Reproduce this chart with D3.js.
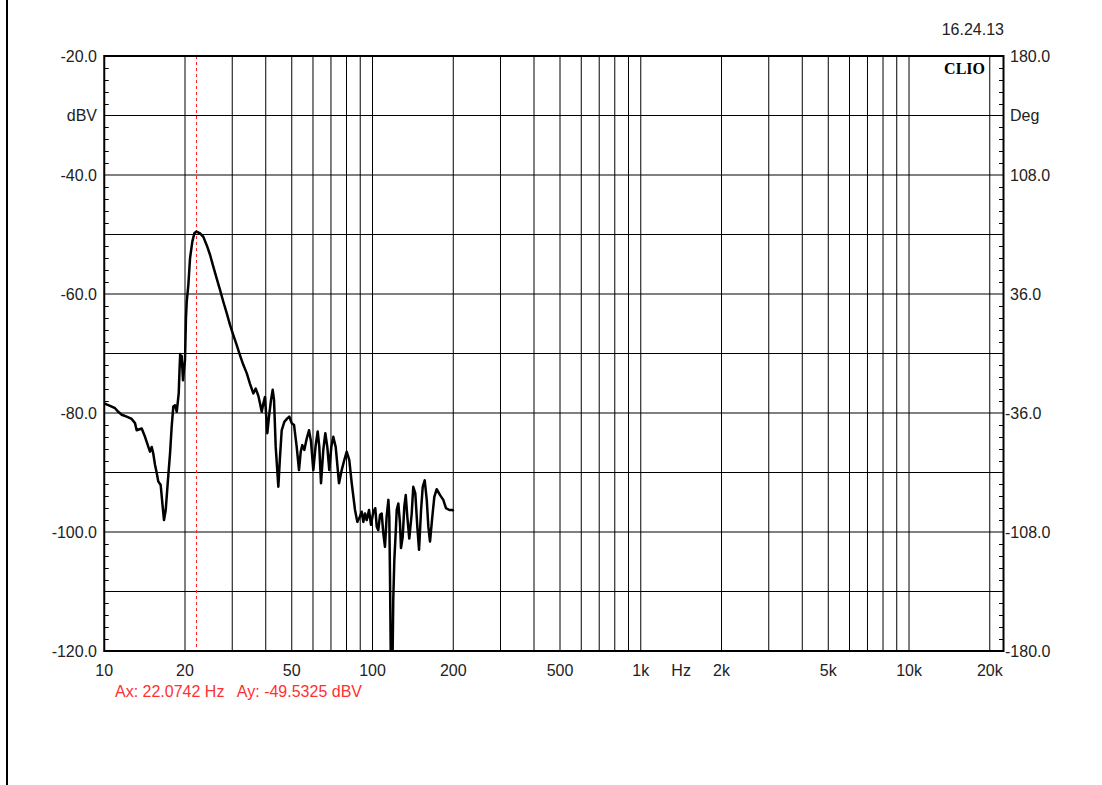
<!DOCTYPE html>
<html>
<head>
<meta charset="utf-8">
<script src="https://cdn.jsdelivr.net/npm/d3@7"></script>
<style>
  html, body { margin: 0; padding: 0; background: #fff; }
  svg { display: block; }
  text { font-family: "Liberation Sans", Arial, sans-serif; }
</style>
</head>
<body>
<svg id="chart" width="1102" height="785"></svg>
<script>
// ---- data ----
const freqHz = [10.0,10.51,10.97,11.28,11.62,12.12,12.66,13.02,13.21,13.79,14.19,14.60,14.81,15.03,15.23,15.46,15.69,15.90,16.23,16.51,16.70,16.95,17.24,17.59,17.84,18.09,18.36,18.63,18.95,19.08,19.19,19.32,19.44,19.66,19.86,20.00,20.17,20.30,20.58,20.88,21.30,21.67,22.07,22.76,23.41,24.10,24.79,25.50,26.26,27.01,27.79,28.61,29.43,30.28,31.18,32.07,32.99,33.97,34.94,35.95,36.70,37.53,38.08,38.64,39.17,39.74,40.54,41.13,41.85,42.46,42.94,43.57,44.56,45.21,45.87,46.91,48.13,48.96,49.98,50.98,52.17,53.21,54.00,54.74,55.69,56.85,57.98,58.99,60.16,61.41,62.47,63.34,64.27,65.55,66.69,67.84,69.01,70.21,71.42,72.91,75.01,76.77,78.50,80.14,81.94,83.65,86.06,87.78,89.83,91.15,92.41,93.77,95.14,97.04,98.72,100.7,102.4,103.7,105.1,106.7,108.2,109.7,111.3,112.9,114.6,115.5,116.2,117.2,118.5,119.5,120.6,122.0,123.1,124.8,126.6,127.7,129.6,131.4,133.0,134.8,137.1,140.0,141.9,144.4,146.9,149.1,151.7,153.9,156.5,159.3,161.5,163.8,167.1,170.0,173.5,178.6,183.6,187.9,193.3,199.1,200.0];
const levelDbV = [-78.4,-78.8,-79.2,-79.8,-80.3,-80.6,-81.0,-81.7,-82.9,-82.6,-84.0,-85.7,-86.5,-85.7,-86.8,-88.7,-90.1,-91.5,-92.1,-95.7,-98.0,-96.3,-91.8,-86.8,-82.3,-78.9,-78.7,-79.8,-76.7,-72.8,-70.1,-71.9,-70.4,-74.5,-72.4,-71.1,-63.9,-61.3,-58.5,-54.0,-51.2,-49.8,-49.5,-49.8,-50.4,-51.8,-53.4,-55.4,-57.4,-59.3,-61.3,-63.2,-65.2,-66.9,-68.6,-70.3,-71.9,-73.3,-75.1,-76.7,-75.9,-77.1,-78.4,-79.8,-78.4,-77.3,-83.4,-80.6,-77.8,-76.1,-77.8,-85.7,-92.4,-87.3,-82.9,-81.5,-80.9,-80.6,-81.7,-82.0,-85.7,-89.6,-86.5,-85.4,-86.2,-84.3,-82.9,-84.8,-89.6,-85.4,-83.1,-85.7,-91.8,-86.2,-83.4,-85.7,-89.6,-85.7,-84.0,-85.7,-91.8,-89.6,-87.9,-86.5,-87.9,-91.8,-96.3,-98.3,-97.4,-96.6,-98.3,-96.9,-98.0,-96.3,-98.8,-96.6,-96.0,-99.1,-99.7,-97.1,-96.9,-100.2,-102.5,-97.4,-94.6,-97.4,-107.5,-125.0,-125.0,-111.4,-104.7,-100.2,-96.3,-95.2,-98.5,-102.7,-100.8,-95.7,-93.8,-97.4,-101.1,-96.9,-92.4,-93.5,-99.1,-103.0,-96.3,-92.4,-91.3,-94.6,-99.1,-101.6,-97.4,-94.1,-92.8,-93.8,-94.6,-96.0,-96.3,-96.3,-96.5];

const xTickValues = [10,20,50,100,200,500,1000,2000,5000,10000,20000];
const xTickLabels = ["10","20","50","100","200","500","1k","2k","5k","10k","20k"];
const gridFreqs = [20,30,40,50,60,70,80,90,100,200,300,400,500,600,700,800,900,1000,2000,3000,4000,5000,6000,7000,8000,9000,10000,20000];
const leftTickValues = [-20,-40,-60,-80,-100,-120];
const leftTickLabels = ["-20.0","-40.0","-60.0","-80.0","-100.0","-120.0"];
const rightTickValues = [180,108,36,-36,-108,-180];
const rightTickLabels = ["180.0","108.0","36.0","-36.0","-108.0","-180.0"];
const cursorFreq = 22.0742;
const cursorText = "Ax: 22.0742 Hz   Ay: -49.5325 dBV";
const timeStamp = "16.24.13";

// ---- layout ----
const L = 104.25, R = 1003.5, T = 56, B = 651;
const svg = d3.select("#chart");
svg.append("rect").attr("width",1102).attr("height",785).attr("fill","#fff");

const x = d3.scaleLog().domain([10, 22500]).range([L, R]);
const y = d3.scaleLinear().domain([-120, -20]).range([B, T]);
const yR = d3.scaleLinear().domain([-180, 180]).range([B, T]);

// outer left border
svg.append("line").attr("x1",7).attr("x2",7).attr("y1",0).attr("y2",785)
  .attr("stroke","#000").attr("stroke-width",2);

// grid
const g = svg.append("g");
g.selectAll("line.vg").data(gridFreqs).join("line")
  .attr("x1", d => x(d)).attr("x2", d => x(d)).attr("y1", T).attr("y2", B)
  .attr("stroke","#000").attr("stroke-width",1);
g.selectAll("line.hg").data(d3.range(-110, -20, 10)).join("line")
  .attr("x1", L).attr("x2", R).attr("y1", d => y(d)).attr("y2", d => y(d))
  .attr("stroke","#000").attr("stroke-width",1);

// minor ticks every 2 dB
const minors = d3.range(-118, -20, 2).filter(v => v % 10 !== 0);
g.selectAll("line.ml").data(minors).join("line")
  .attr("x1", L).attr("x2", L + 4.5).attr("y1", d => Math.round(y(d))+0.5).attr("y2", d => Math.round(y(d))+0.5)
  .attr("stroke","#000").attr("stroke-width",1);
g.selectAll("line.mr").data(minors).join("line")
  .attr("x1", R - 4.5).attr("x2", R).attr("y1", d => Math.round(y(d))+0.5).attr("y2", d => Math.round(y(d))+0.5)
  .attr("stroke","#000").attr("stroke-width",1);

// cursor
svg.append("line").attr("x1", x(cursorFreq)).attr("x2", x(cursorFreq))
  .attr("y1", T).attr("y2", B)
  .attr("stroke","#ff2020").attr("stroke-width",1).attr("stroke-dasharray","3,3");

// curve
svg.append("clipPath").attr("id","clip").append("rect")
  .attr("x", L).attr("y", T).attr("width", R - L).attr("height", B - T);
const pts = freqHz.map((f, i) => [f, levelDbV[i]]);
svg.append("path").datum(pts)
  .attr("clip-path","url(#clip)")
  .attr("fill","none").attr("stroke","#000").attr("stroke-width",2.5)
  .attr("stroke-linejoin","round")
  .attr("d", d3.line().x(d => x(d[0])).y(d => y(d[1])));

// frame
svg.append("rect").attr("x", L).attr("y", T).attr("width", R - L).attr("height", B - T)
  .attr("fill","none").attr("stroke","#000").attr("stroke-width",2);

// left labels
const txtCol = "#222", fs = 16;
svg.selectAll("text.yl").data(leftTickValues).join("text")
  .attr("x", 97).attr("y", d => y(d)).attr("dy","0.36em")
  .attr("text-anchor","end").attr("font-size",fs).attr("fill",txtCol)
  .text((d,i) => leftTickLabels[i]);
svg.append("text").attr("x",97).attr("y",y(-30)).attr("dy","0.36em")
  .attr("text-anchor","end").attr("font-size",fs).attr("fill",txtCol).text("dBV");

// right labels
svg.selectAll("text.yr").data(rightTickValues).join("text")
  .attr("x", d => d < 0 ? 1005 : 1010).attr("y", d => yR(d)).attr("dy","0.36em")
  .attr("text-anchor","start").attr("font-size",fs).attr("fill",txtCol)
  .text((d,i) => rightTickLabels[i]);
svg.append("text").attr("x",1010).attr("y",yR(144)).attr("dy","0.36em")
  .attr("text-anchor","start").attr("font-size",fs).attr("fill",txtCol).text("Deg");

// x labels
svg.selectAll("text.xl").data(xTickValues).join("text")
  .attr("x", d => x(d)).attr("y", 676)
  .attr("text-anchor","middle").attr("font-size",fs).attr("fill",txtCol)
  .text((d,i) => xTickLabels[i]);
svg.append("text").attr("x", x(1414)).attr("y",676)
  .attr("text-anchor","middle").attr("font-size",fs).attr("fill",txtCol).text("Hz");

// cursor readout
svg.append("text").attr("x",115).attr("y",697).attr("font-size",fs)
  .attr("fill","#ff3030").attr("xml:space","preserve").style("white-space","pre").text(cursorText);

// timestamp and CLIO
svg.append("text").attr("x",1004).attr("y",35).attr("text-anchor","end")
  .attr("font-size",fs).attr("fill",txtCol).text(timeStamp);
svg.append("text").attr("x",985).attr("y",74).attr("text-anchor","end")
  .attr("font-size",16).attr("font-weight","bold")
  .style("font-family","'Liberation Serif', 'Times New Roman', serif")
  .attr("fill","#000").text("CLIO");
</script>
</body>
</html>
